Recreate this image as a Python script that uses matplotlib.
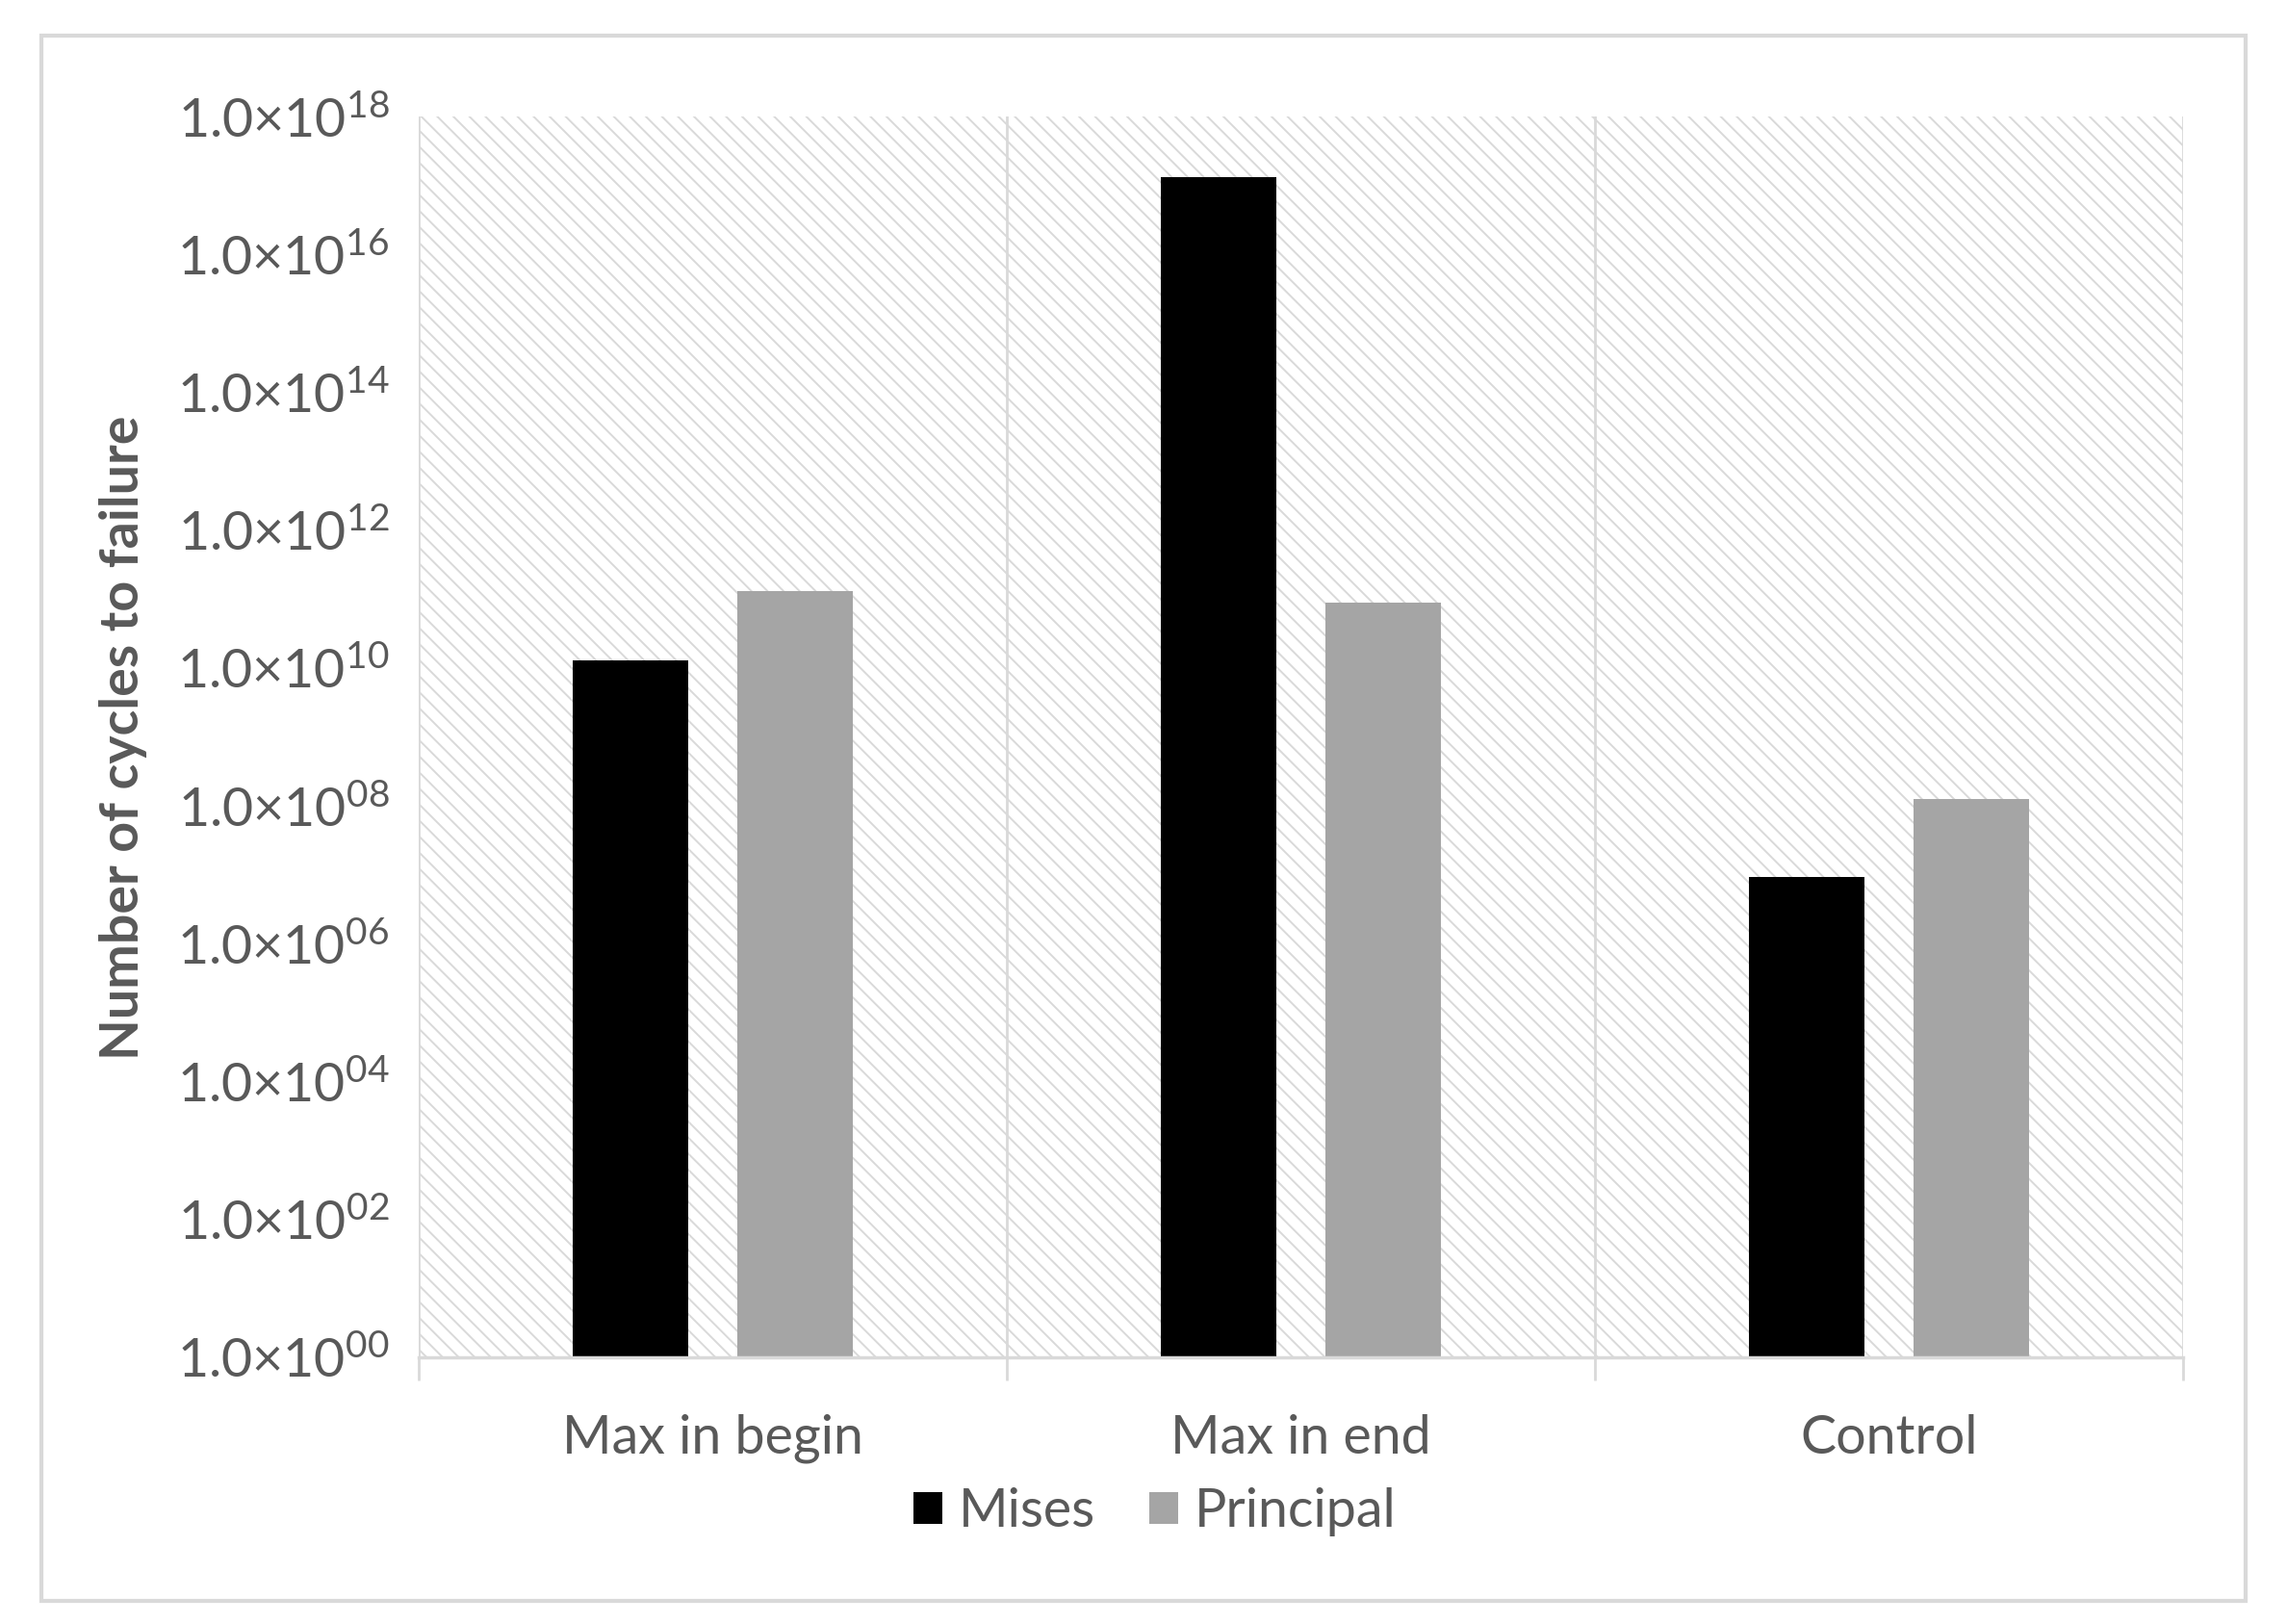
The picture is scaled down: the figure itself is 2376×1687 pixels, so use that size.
import numpy as np
import matplotlib
matplotlib.use("Agg")
import matplotlib.pyplot as plt
from matplotlib.patches import Rectangle

# -----------------------------------------------------------
# Data
# -----------------------------------------------------------
categories = ["Max in begin", "Max in end", "Control"]
mises = [1.3e10, 1.35e17, 9.5e6]
principal = [1.33e11, 9.0e10, 1.26e8]
series_names = ["Mises", "Principal"]
ytick_exponents = [0, 2, 4, 6, 8, 10, 12, 14, 16, 18]

# -----------------------------------------------------------
# Style
# -----------------------------------------------------------
plt.rcParams["font.family"] = ["Lato", "DejaVu Sans"]
plt.rcParams["mathtext.fontset"] = "custom"
plt.rcParams["mathtext.rm"] = "Lato"
plt.rcParams["mathtext.it"] = "Lato:italic"
plt.rcParams["mathtext.bf"] = "Lato:bold"
plt.rcParams["hatch.linewidth"] = 1.4

text_col = "#595959"
grid_col = "#d9d9d9"
fs = 40

fig = plt.figure(figsize=(23.76, 16.87), dpi=100)
ax = fig.add_axes([0.183, 0.164, 0.7715, 0.764])

# hatched plot background
bg = Rectangle((0, 0), 1, 1, transform=ax.transAxes, facecolor="white",
               edgecolor=grid_col, hatch="\\\\", linewidth=0, zorder=0)
ax.add_patch(bg)

x = np.arange(len(categories))
w = 0.196
off = 0.28
ax.bar(x - off / 2, mises, width=w, color="#000000", label=series_names[0], zorder=3)
ax.bar(x + off / 2, principal, width=w, color="#a5a5a5", label=series_names[1], zorder=3)

ax.set_yscale("log")
ax.set_ylim(1, 1e18)
ax.set_xlim(-0.5, len(categories) - 0.5)

ax.set_yticks([10.0 ** e for e in ytick_exponents])
ax.set_yticklabels([r"$\mathrm{1.0{\times}10^{%02d}}$" % e for e in ytick_exponents])
ax.yaxis.set_minor_locator(matplotlib.ticker.NullLocator())
ax.tick_params(axis="y", length=0, pad=22, labelsize=fs, labelcolor=text_col)

ax.set_xticks(x)
ax.set_xticklabels(categories)
ax.tick_params(axis="x", which="major", length=0, pad=42, labelsize=fs, labelcolor=text_col)
ax.set_xticks(np.arange(-0.5, len(categories)), minor=True)
ax.tick_params(axis="x", which="minor", length=17, width=2, color=grid_col)
ax.grid(which="minor", axis="x", color=grid_col, linewidth=2, zorder=1)
ax.set_axisbelow(True)

for s in ["top", "right", "left"]:
    ax.spines[s].set_visible(False)
ax.spines["bottom"].set_color(grid_col)
ax.spines["bottom"].set_linewidth(2.5)
ax.spines["bottom"].set_zorder(4)

fig.text(0.054, 0.546, "Number of cycles to failure", rotation=90, ha="center",
         va="center", fontsize=40, fontweight="bold", color=text_col)

leg = fig.legend(loc="center", bbox_to_anchor=(0.505, 0.069), ncol=2, frameon=False,
                 fontsize=fs, handlelength=0.55, handleheight=0.55, handletextpad=0.3,
                 columnspacing=1.0)
for t in leg.get_texts():
    t.set_color(text_col)

# outer chart border
fig.patches.append(Rectangle((0.018, 0.014), 0.964, 0.964, transform=fig.transFigure,
                             fill=False, edgecolor=grid_col, linewidth=3))

fig.savefig("out.png", dpi=100)
